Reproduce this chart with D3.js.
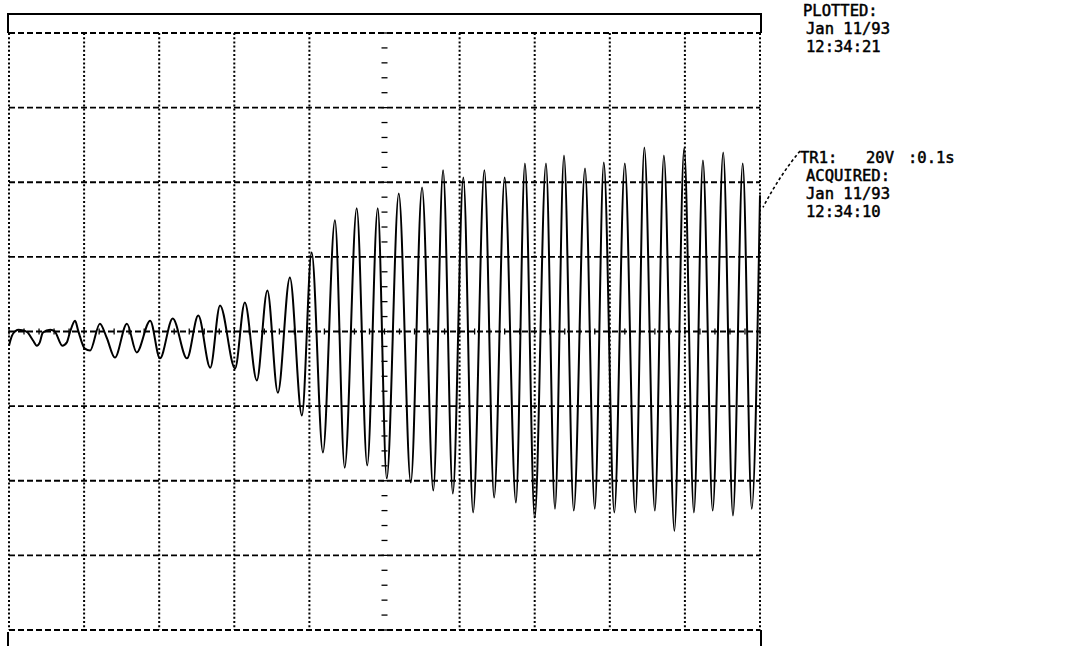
<!DOCTYPE html>
<html lang="en">
<head>
  <meta charset="UTF-8" />
  <title>TR1 trace</title>
  <script src="https://d3js.org/d3.v7.min.js"></script>
  <style>
    html, body {
      margin: 0;
      padding: 0;
      background: #fff;
    }

    svg {
      display: block;
    }

    .grid-h {
      stroke: #000;
      stroke-width: 1.8px;
      stroke-dasharray: 6, 3;
    }

    .grid-v {
      stroke: #000;
      stroke-width: 2px;
      stroke-dasharray: 2, 2.2;
    }

    .frame {
      stroke: #000;
      stroke-width: 2px;
      fill: none;
    }

    .trace {
      fill: none;
      stroke: #000;
      stroke-width: 2px;
      stroke-linejoin: round;
    }

    .label {
      font-family: 'DejaVu Sans Mono', 'Liberation Mono', monospace;
      font-size: 15.5px;
      fill: #000;
      stroke: #000;
      stroke-width: 0.5px;
    }
  </style>
</head>
<body>

<svg width="1068" height="646"></svg>

<script>
  // time of each turning point of the trace (ms, 0.1 s / div)
  const timeMs = [
    0, 4, 8, 12, 19, 25, 32, 37, 41, 45, 55, 61, 71, 77, 81, 88, 92, 101, 108,
    121, 130, 141, 157, 170, 188, 201, 218, 237, 252, 268, 281, 301, 314, 330,
    344, 358, 374, 390, 403, 418, 434, 447, 463, 477, 491, 503, 519, 535, 550,
    565, 578, 591, 605, 618, 633, 646, 660, 675, 687, 700, 715, 727, 739, 752,
    767, 780, 792, 806, 820, 834, 846, 860, 872, 886, 899, 912, 924, 937, 951,
    964, 977, 989, 1000
  ];

  // trace value at each turning point (V, 20 V / div)
  const volts = [
    -3.8, -1.1, 0, 0.5, 0.3, -0.3, -2.4, -3.8, -2.9, -0.3, 0.5, 0, -3.8, -2.9, -0.3, 2.9, 0.3, -4.6, -5.1,
    2.1, -1.6, -7.0, 2.1, -5.6, 2.9, -7.2, 3.5, -7.2, 4.3, -9.7, 7.0, -9.9, 7.8, -13.1,
    11.0, -16.4, 14.5, -22.5, 21.2, -32.4, 29.8, -36.5, 33.0, -35.9, 33.0, -39.4, 37.0, -40.5, 38.6,
    -42.6, 43.2, -43.4, 41.3, -48.5, 43.2, -44.5, 41.3, -45.8, 45.0, -49.9, 45.0, -47.5, 47.2, -48.0,
    43.7, -47.5, 45.3, -48.5, 45.0, -48.5, 49.3, -48.0, 47.2, -53.4, 49.1, -48.5, 45.8, -48.0, 48.0,
    -49.3, 45.0, -47.5, 36.5
  ];

  // grid: 10 divisions across, 8 divisions up
  const timeTicks = [0, 100, 200, 300, 400, 500, 600, 700, 800, 900, 1000];
  const voltTicks = [-80, -60, -40, -20, 0, 20, 40, 60, 80];
  // minor ticks on the centre axes (0.2 div)
  const minorTime = d3.range(0, 1001, 20);
  const minorVolt = d3.range(-80, 81, 4);

  const plottedLines = ["PLOTTED:", "Jan 11/93", "12:34:21"];
  const acquiredLines = ["ACQUIRED:", "Jan 11/93", "12:34:10"];
  const traceLabel = ["TR1:", "20V", ":0.1s"];

  const svg = d3.select("svg");

  const x = d3.scaleLinear().domain([0, 1000]).range([9, 760]);
  const y = d3.scaleLinear().domain([-80, 80]).range([630, 33]);

  // outer frame pieces (top strip + the little bits of side above/below the grid)
  const frame = svg.append("g");
  frame.append("path")
    .attr("class", "frame")
    .attr("d", `M${x(0) - 1},${y(80)}V14H${x(1000) + 1}V${y(80)}`);
  frame.append("line").attr("class", "frame")
    .attr("x1", x(0) - 1).attr("x2", x(0) - 1)
    .attr("y1", y(-80) + 2).attr("y2", 646);
  frame.append("line").attr("class", "frame")
    .attr("x1", x(1000) + 1).attr("x2", x(1000) + 1)
    .attr("y1", y(-80)).attr("y2", 646);

  const grid = svg.append("g");

  grid.selectAll(".grid-h")
    .data(voltTicks)
    .enter().append("line")
    .attr("class", "grid-h")
    .attr("x1", x(0)).attr("x2", x(1000))
    .attr("y1", d => y(d)).attr("y2", d => y(d));

  // centre vertical is only minor ticks, not a dashed line
  grid.selectAll(".grid-v")
    .data(timeTicks.filter(d => d !== 500))
    .enter().append("line")
    .attr("class", "grid-v")
    .attr("y1", y(80)).attr("y2", y(-80))
    .attr("x1", d => x(d)).attr("x2", d => x(d));

  grid.selectAll(".minor-t")
    .data(minorTime)
    .enter().append("line")
    .attr("class", "minor-t")
    .attr("stroke", "#000")
    .attr("stroke-width", 1.3)
    .attr("x1", d => x(d)).attr("x2", d => x(d))
    .attr("y1", y(0) - 3).attr("y2", y(0) + 3);

  grid.selectAll(".minor-v")
    .data(minorVolt)
    .enter().append("line")
    .attr("class", "minor-v")
    .attr("stroke", "#000")
    .attr("stroke-width", 1.3)
    .attr("x1", x(500) - 3).attr("x2", x(500) + 3)
    .attr("y1", d => y(d)).attr("y2", d => y(d));

  // the trace
  const points = timeMs.map((t, i) => [t, volts[i]]);
  const line = d3.line()
    .x(d => x(d[0]))
    .y(d => y(d[1]))
    .curve(d3.curveMonotoneX);

  svg.append("path")
    .datum(points)
    .attr("class", "trace")
    .attr("d", line);

  // labels on the right
  svg.selectAll("text.plotted")
    .data(plottedLines)
    .enter().append("text")
    .attr("class", "label plotted")
    .attr("x", (d, i) => i === 0 ? 803 : 806)
    .attr("y", (d, i) => 16 + i * 18)
    .text(d => d);

  const trX = [800, 866, 908];
  svg.selectAll("text.tr")
    .data(traceLabel)
    .enter().append("text")
    .attr("class", "label tr")
    .attr("x", (d, i) => trX[i])
    .attr("y", 163)
    .text(d => d);

  svg.selectAll("text.acq")
    .data(acquiredLines)
    .enter().append("text")
    .attr("class", "label acq")
    .attr("x", 806)
    .attr("y", (d, i) => 181 + i * 18)
    .text(d => d);

  // dashed leader from the trace label back to the end of the trace
  svg.append("path")
    .attr("fill", "none")
    .attr("stroke", "#000")
    .attr("stroke-width", 1.6)
    .attr("stroke-dasharray", "3,2.5")
    .attr("d", `M800,151 Q780,175 ${x(1000) + 3},${y(36.5) + 12}`);
</script>

</body>
</html>
